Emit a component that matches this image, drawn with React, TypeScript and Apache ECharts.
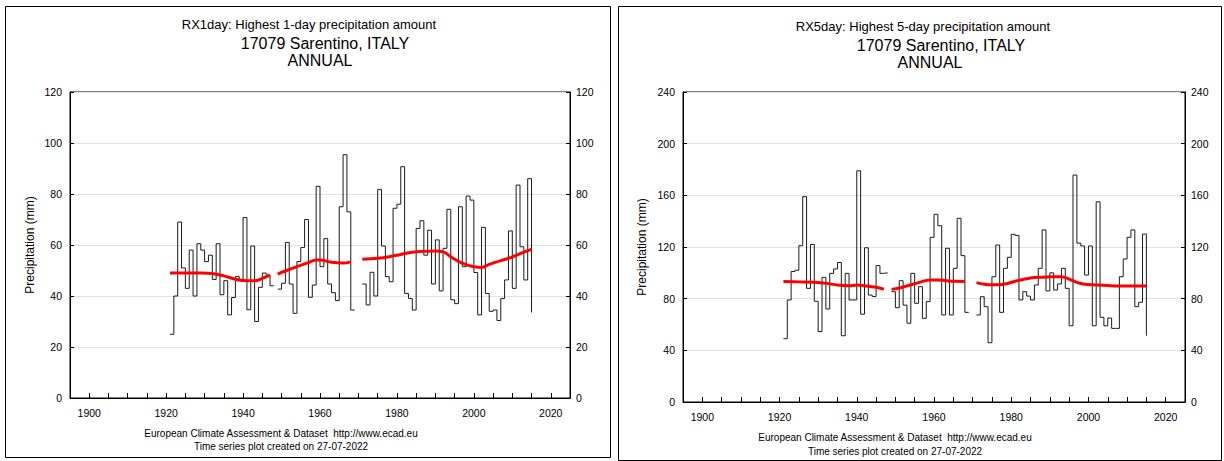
import React, { useEffect, useRef } from "react";
import * as echarts from "echarts";

// Annual series start year (one value per year, null = missing year)
const FIRST_YEAR = 1921;

// RX1day: highest 1-day precipitation amount (mm), 1921..2015
const rx1day: (number | null)[] = [
  25, 40, 69, 51, 43, 58, 40, 60.5, 58, 53.5,
  56, 46.5, 60.5, 40.5, 46, 32.6, 39.4, 47.6, 46.5, 70.8,
  34.6, 59.6, 30, 43.4, 49, 48, 44,
  null,
  42.7, 45, 61, 44.7, 33.2, 53.5, 59, 70, 39.5, 44.3,
  83, 51.5, 62.5, 44.7, 41.3, 38.2, 75, 95.4, 73, 34.5,
  null, null,
  44.7, 36.5, 49.3, 40, 81.8, 59.6, 47.6, 45.6, 74.4, 76,
  90.7, 41, 39, 34.5, 66.5, 69.5, 56, 65.8, 44.7, 62,
  42, 58.7, 74, 38.5, 37, 75, 51.5, 79.2, 77.6, 49.2,
  32.6, 66.9, 41, 34, 34.5, 30.4, 39, 46.3, 65.5, 43,
  83.5, 59.3, 46.3, 86, 33.5,
];

// RX5day: highest 5-day precipitation amount (mm), 1921..2015
const rx5day: (number | null)[] = [
  49, 79, 101, 102, 121, 159, 88, 122, 78, 54.5,
  96.5, 72, 99.6, 103, 108, 51.3, 99.6, 79, 79, 179,
  68, 119.4, 82.8, 81.6, 105.6, 99.6, 100,
  null,
  85.4, 73, 93.9, 75, 61, 99.6, 76.4, 89.3, 64.8, 77.7,
  127.5, 145.3, 136.5, 67.4, 119, 67.4, 103.5, 142.2, 113.3, 69.4,
  null, null,
  67.4, 81.5, 73.8, 45.9, 97, 121.5, 69.4, 103.5, 112, 129.8,
  129, 79, 85.4, 82, 79, 90.6, 103.5, 133.2, 86, 100,
  86.7, 91.4, 103.5, 88, 59, 175.7, 123, 120.8, 98.3, 120.8,
  59, 155, 65.6, 59, 65, 57, 57, 97, 110.7, 127.5,
  133.2, 73.8, 77.2, 130, 51.3,
];

// Smoothed trend curves, one list per unbroken stretch of data: [year, mm]
const rx1Trend1: [number, number][] = [
  [1921, 49], [1925, 49], [1929, 49], [1932, 48.8], [1935, 47.9],
  [1938, 46.6], [1940, 46.1], [1943, 46.0], [1945, 46.9], [1947, 48.3],
];
const rx1Trend2: [number, number][] = [
  [1949, 48.6], [1951, 49.8], [1954, 51.5], [1957, 53.1], [1959, 54.1],
  [1960, 54.1], [1963, 53.2], [1966, 52.9], [1968, 53.4],
];
const rx1Trend3: [number, number][] = [
  [1971, 54.4], [1975, 54.8], [1978, 55.4], [1981, 56.3], [1984, 57.2],
  [1987, 57.5], [1990, 57.6], [1992, 57.3], [1994, 55.4], [1996, 53.6],
  [1998, 52.3], [2000, 51.5], [2002, 51.2], [2004, 52.4], [2006, 53.4],
  [2008, 54.3], [2010, 55.3], [2012, 56.6], [2014, 57.8], [2015, 58.3],
];

const rx5Trend1: [number, number][] = [
  [1921, 93.2], [1925, 93], [1929, 92.7], [1932, 92], [1935, 90.5],
  [1938, 90], [1940, 90.5], [1942, 90], [1945, 88.8], [1947, 87.3],
];
const rx5Trend2: [number, number][] = [
  [1949, 87.2], [1951, 88.2], [1953, 89.9], [1956, 92.4], [1959, 94.5],
  [1961, 94.5], [1963, 94], [1965, 93.4], [1968, 93.3],
];
const rx5Trend3: [number, number][] = [
  [1971, 92.4], [1973, 91.1], [1975, 90.7], [1977, 90.8], [1979, 91.8],
  [1981, 93.5], [1983, 94.8], [1985, 96], [1987, 96.6], [1990, 96.9],
  [1993, 97], [1995, 95.2], [1997, 92.6], [1999, 91.2], [2002, 90.6],
  [2005, 90.1], [2008, 89.8], [2011, 89.8], [2015, 89.8],
];

const FONT = "'Liberation Sans', Arial, sans-serif";

const toPairs = (vals: (number | null)[]) =>
  vals.map((v, i) => [FIRST_YEAR + i, v]);

const xAxisFor = (gridIndex: number) => ({
  type: "value",
  gridIndex,
  min: 1895,
  max: 2025,
  interval: 5,
  axisLine: { show: true, lineStyle: { color: "#000", width: 1 } },
  axisTick: { show: true, inside: true, length: 5, lineStyle: { color: "#000" } },
  axisLabel: {
    formatter: (v: number) => (v % 20 === 0 ? String(v) : ""),
    color: "#000",
    fontSize: 10.5,
    fontFamily: FONT,
    margin: 9,
  },
  splitLine: { show: false },
});

const yAxisFor = (gridIndex: number, max: number, interval: number, side: "left" | "right", nameGap: number) => ({
  type: "value",
  gridIndex,
  position: side,
  min: 0,
  max,
  interval,
  name: side === "left" ? "Precipitation (mm)" : "",
  nameLocation: "middle",
  nameRotate: 90,
  nameGap,
  nameTextStyle: { color: "#000", fontSize: 12, fontFamily: FONT },
  axisLine: { show: true, lineStyle: { color: "#000", width: 1 } },
  axisTick: { show: true, inside: true, length: 4, lineStyle: { color: "#000" } },
  axisLabel: {
    color: "#000",
    fontSize: 10.5,
    fontFamily: FONT,
    margin: side === "left" ? 8 : 6,
  },
  splitLine: side === "left" ? { show: true, lineStyle: { color: "#e2e2e2", width: 1 } } : { show: false },
});

const stepSeries = (axisIndex: number, vals: (number | null)[]) => ({
  type: "line",
  xAxisIndex: axisIndex,
  yAxisIndex: axisIndex * 2,
  step: "end",
  data: toPairs(vals),
  symbol: "none",
  connectNulls: false,
  lineStyle: { color: "#1a1a1a", width: 1 },
  z: 2,
});

const trendSeries = (axisIndex: number, pts: [number, number][]) => ({
  type: "line",
  xAxisIndex: axisIndex,
  yAxisIndex: axisIndex * 2,
  data: pts,
  symbol: "none",
  smooth: 0.4,
  lineStyle: { color: "#ff0000", width: 3 },
  z: 3,
});

const text = (t: string, x: number, y: number, size: number) => ({
  type: "text",
  x,
  y,
  style: {
    text: t,
    font: `${size}px ${FONT}`,
    fill: "#000",
    textAlign: "center",
    textVerticalAlign: "middle",
  },
});

export default function App() {
  const ref = useRef<HTMLDivElement>(null);

  useEffect(() => {
    if (!ref.current) return;
    const chart = echarts.init(ref.current, undefined, { renderer: "svg" });
    chart.setOption({
      animation: false,
      backgroundColor: "#ffffff",
      textStyle: { fontFamily: FONT },
      grid: [
        { left: 70, top: 92, width: 500, height: 306, show: true, borderColor: "#000", borderWidth: 1 },
        { left: 683, top: 92, width: 502, height: 310, show: true, borderColor: "#000", borderWidth: 1 },
      ],
      xAxis: [xAxisFor(0), xAxisFor(1)],
      yAxis: [
        yAxisFor(0, 120, 20, "left", 34),
        yAxisFor(0, 120, 20, "right", 30),
        yAxisFor(1, 240, 40, "left", 35),
        yAxisFor(1, 240, 40, "right", 30),
      ],
      series: [
        stepSeries(0, rx1day),
        trendSeries(0, rx1Trend1),
        trendSeries(0, rx1Trend2),
        trendSeries(0, rx1Trend3),
        stepSeries(1, rx5day),
        trendSeries(1, rx5Trend1),
        trendSeries(1, rx5Trend2),
        trendSeries(1, rx5Trend3),
      ],
      graphic: [
        {
          type: "rect",
          shape: { x: 5.5, y: 6.5, width: 605, height: 451 },
          style: { fill: "none", stroke: "#000", lineWidth: 1 },
        },
        {
          type: "rect",
          shape: { x: 618.5, y: 6.5, width: 603, height: 454 },
          style: { fill: "none", stroke: "#000", lineWidth: 1 },
        },
        text("RX1day: Highest 1-day precipitation amount", 309, 24, 13),
        text("17079 Sarentino, ITALY", 325, 43, 16),
        text("ANNUAL", 320, 60, 16),
        text("European Climate Assessment & Dataset  http://www.ecad.eu", 281, 433, 10),
        text("Time series plot created on 27-07-2022", 281, 446, 10),
        text("RX5day: Highest 5-day precipitation amount", 923, 26, 13),
        text("17079 Sarentino, ITALY", 941, 45, 16),
        text("ANNUAL", 930, 62, 16),
        text("European Climate Assessment & Dataset  http://www.ecad.eu", 895, 437, 10),
        text("Time series plot created on 27-07-2022", 895, 451, 10),
      ],
    });
    return () => chart.dispose();
  }, []);

  return (
    <div
      ref={ref}
      style={{ position: "fixed", left: 0, top: 0, width: 1224, height: 461, background: "#fff" }}
    />
  );
}
